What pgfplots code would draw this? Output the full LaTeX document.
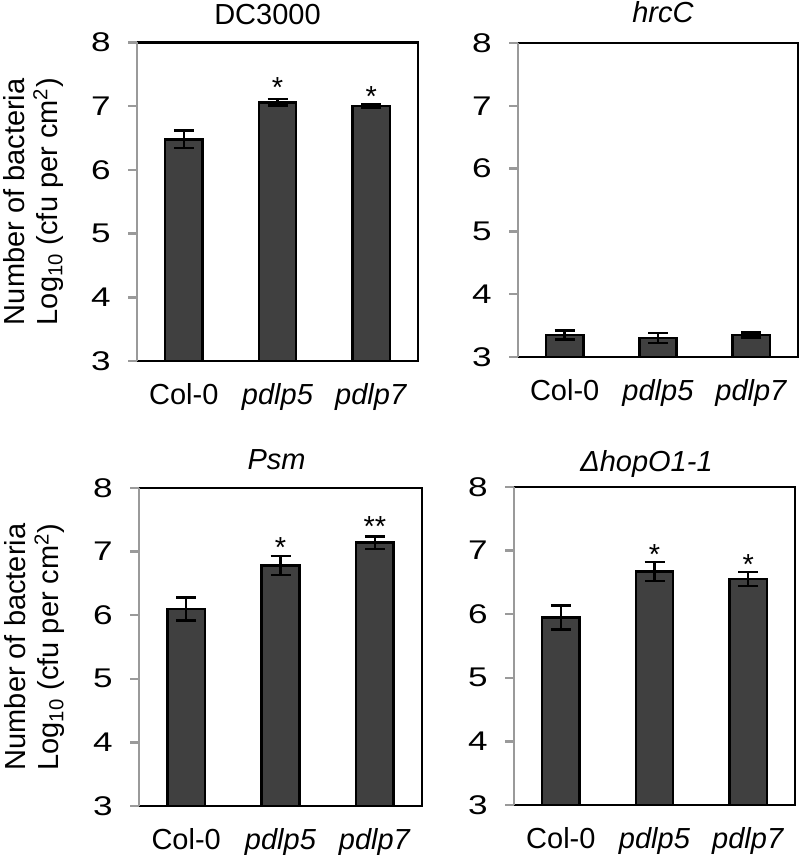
\documentclass[border=0pt]{standalone}
\usepackage{fontspec}
\setmainfont{Liberation Sans}
\newfontfamily\tickfont[FakeStretch=1.3]{Liberation Sans}
\usepackage{pgfplots}
\pgfplotsset{compat=1.18}
\definecolor{barfill}{HTML}{404040}
\definecolor{axgray}{HTML}{9A9A9A}
\tikzset{starlabel/.style={font=\fontsize{14.5}{16}\selectfont, anchor=base, inner sep=0pt}}
\pgfplotsset{
  panel/.style={
    scale only axis,
    xmin=0, xmax=3, ymin=3, ymax=8,
    ytick={3,4,5,6,7,8},
    xtick={0.5,1.5,2.5},
    xticklabels={Col-0, \textit{pdlp5}, \textit{pdlp7}},
    axis line style={draw=none},
    tick align=outside,
    ytick pos=left,
    xtick pos=bottom,
    major tick length=4.5pt,
    ytick style={draw=axgray, line width=1.25pt},
    xtick style={draw=none},
    /pgf/number format/assume math mode=true,
    yticklabel style={font=\tickfont\fontsize{13.5}{15}\selectfont, inner sep=0pt, xshift=-8.5pt},
    xticklabel style={font=\fontsize{14.5}{16}\selectfont, anchor=base, inner sep=0pt, yshift=-17.5pt},
    title style={font=\fontsize{14.5}{16}\selectfont, at={(0.5,1)}, anchor=base, inner sep=0pt},
    after end axis/.append code={
      \draw[black, line width=1.25pt, line join=miter] (rel axis cs:0,0) -- (rel axis cs:1,0) -- (rel axis cs:1,1) -- (rel axis cs:0,1);
      \draw[axgray, line width=1.25pt] (rel axis cs:0,0) -- (rel axis cs:0,1);
    },
  },
  leftlabel/.style={
    ylabel={Number of bacteria\\Log\textsubscript{10} (cfu per cm\textsuperscript{2})},
    ylabel style={font=\fontsize{14.5}{16.5}\selectfont, align=center, at={(axis description cs:-0.475,0.5)}, anchor=north, inner sep=0pt},
  },
  bars/.style={ybar, bar width=0.4, fill=barfill, draw=black, line width=1.25pt,
    error bars/.cd, y dir=both, y explicit,
    error bar style={line width=1.25pt, black},
    error mark options={rotate=90, mark size=5pt, line width=1.25pt, black}},
}
\begin{document}
\begin{tikzpicture}
\path[use as bounding box] (0,0) rectangle (400pt,427.5pt);
% Top-left: DC3000
\begin{axis}[panel, leftlabel, at={(68.5pt,247pt)}, anchor=south west, width=140.5pt, height=159.25pt,
  title={DC3000}, title style={xshift=-5pt, yshift=2.75pt}]
\addplot[bars] coordinates {(0.5,6.48) +- (0,0.14) (1.5,7.06) +- (0,0.05) (2.5,7.00) +- (0,0.03)};
\node[starlabel] at (axis cs:1.5,7.14) {*};
\node[starlabel] at (axis cs:2.5,7.00) {*};
\end{axis}
% Top-right: hrcC
\begin{axis}[panel, at={(259pt,249pt)}, anchor=south west, width=140pt, height=157pt,
  title={\textit{hrcC}}, title style={xshift=2.5pt, yshift=4pt}]
\addplot[bars] coordinates {(0.5,3.35) +- (0,0.07) (1.5,3.30) +- (0,0.08) (2.5,3.35) +- (0,0.04)};
\end{axis}
% Bottom-left: Psm
\begin{axis}[panel, leftlabel, at={(69.5pt,24.5pt)}, anchor=south west, width=141.5pt, height=159pt,
  title={\textit{Psm}}, title style={xshift=-2pt, yshift=3.3pt}]
\addplot[bars] coordinates {(0.5,6.10) +- (0,0.18) (1.5,6.78) +- (0,0.15) (2.5,7.14) +- (0,0.10)};
\node[starlabel] at (axis cs:1.5,6.91) {*};
\node[starlabel] at (axis cs:2.5,7.24) {**};
\end{axis}
% Bottom-right: hopO1-1
\begin{axis}[panel, at={(257pt,25pt)}, anchor=south west, width=140.5pt, height=159pt,
  title={\textit{Δ{}hopO1-1}}, title style={xshift=-4pt, yshift=1.5pt}]
\addplot[bars] coordinates {(0.5,5.95) +- (0,0.19) (1.5,6.67) +- (0,0.15) (2.5,6.55) +- (0,0.11)};
\node[starlabel] at (axis cs:1.5,6.78) {*};
\node[starlabel] at (axis cs:2.5,6.62) {*};
\end{axis}
\end{tikzpicture}
\end{document}
